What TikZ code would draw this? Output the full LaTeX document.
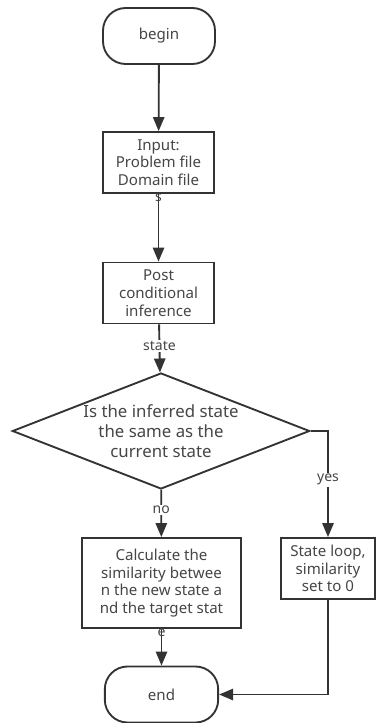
\documentclass[tikz,border=0pt]{standalone}
\usepackage{fontspec}
\setmainfont{Noto Sans}
\definecolor{LineGray}{RGB}{51,51,51}
\definecolor{TextGray}{RGB}{70,70,70}
\usetikzlibrary{shapes.geometric, arrows.meta}

\begin{document}
\begin{tikzpicture}[x=0.75pt,y=-0.75pt,
        box/.style={draw=LineGray,line width=1.4pt,fill=white,
                    align=center,inner sep=2pt,
                    font=\fontsize{11.3}{13.3}\selectfont,text=TextGray},
        term/.style={box,rounded corners=17pt,minimum width=84pt,minimum height=42pt},
        cond/.style={box,diamond,inner sep=0pt,aspect=2.56,
                     minimum width=223pt,minimum height=87pt,
                     font=\fontsize{12.6}{15}\selectfont},
        lbl/.style={fill=white,inner sep=1pt,font=\fontsize{10.5}{13}\selectfont,text=TextGray},
        arrow/.style={-{Triangle[length=10.5pt,width=8.5pt]},line width=1.4pt,LineGray}]
        \useasboundingbox (0,0) rectangle (385,723);
        \node[term] (begin) at (159,36) {begin};
        \node[box,minimum width=83pt,minimum height=45.75pt] (input) at (158.5,162.5)
              {Input:\\Problem file\\Domain file};
        \node[box,minimum width=83pt,minimum height=45.75pt] (post) at (158.5,293)
              {Post\\conditional\\inference};
        \node[cond] (same) at (161,431)
              {Is the inferred state\\the same as the\\current state};
        \node[box,minimum width=119pt,minimum height=67.5pt] (calc) at (161.5,583)
              {Calculate the\\similarity betwee\\n the new state a\\nd the target stat};
        \node[box,minimum width=70.5pt,minimum height=45.75pt] (loop) at (328,568.5)
              {State loop,\\similarity\\set to 0};
        \node[term,minimum width=85pt] (end) at (161.5,694.5) {end};
        % connectors
        \draw[arrow] (begin) -- (input);
        \draw[arrow] (input) -- (post);
        \node[lbl,fill=none,inner sep=0pt,anchor=north] (sovf) at (input.south) {s};
        \draw[arrow] (post) -- (same) node[lbl,pos=0.44] (st) {state};
        \draw[arrow] (same.east) -| (loop.north) node[lbl,pos=0.73] (yes) {yes};
        \draw[arrow] (same) -- (calc) node[lbl,pos=0.43] (no) {no};
        \draw[arrow] (calc) -- (end);
        \node[lbl,fill=none,inner sep=0pt,anchor=north] (eovf) at (calc.south) {e};
        \draw[arrow] (loop.south) |- (end.east);
      \end{tikzpicture}
\end{document}
